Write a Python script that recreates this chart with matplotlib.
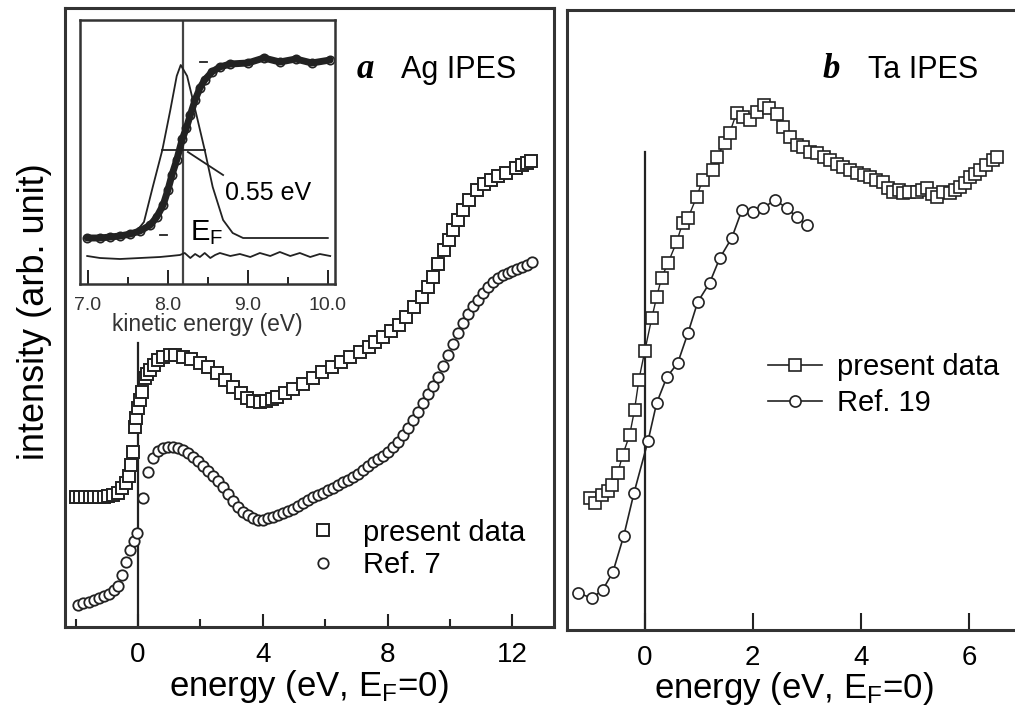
import matplotlib
matplotlib.use("Agg")
import matplotlib.pyplot as plt
from matplotlib.lines import Line2D
from matplotlib.ticker import FixedLocator, FormatStrFormatter

plt.rcParams['font.family'] = ['Liberation Sans', 'DejaVu Sans']
plt.rcParams['mathtext.fontset'] = 'custom'
plt.rcParams['mathtext.rm'] = 'Liberation Sans'
plt.rcParams['mathtext.it'] = 'Liberation Sans'

# ---- panel a: Ag IPES (energy in eV, intensity in arb. units) ----
ag_present_E = [-2.0, -1.85, -1.7, -1.55, -1.4, -1.25, -1.1, -0.95, -0.8, -0.65,
                -0.5, -0.4, -0.3, -0.22, -0.16, -0.1, -0.05, 0.0, 0.07, 0.13,
                0.22, 0.3, 0.38, 0.5, 0.64, 0.8, 1.03, 1.2, 1.44, 1.7,
                2.0, 2.25, 2.53, 2.8, 3.04, 3.3, 3.5, 3.7, 3.9, 4.1,
                4.3, 4.46, 4.7, 4.97, 5.3, 5.6, 5.9, 6.2, 6.5, 6.8,
                7.1, 7.4, 7.6, 7.85, 8.1, 8.35, 8.6, 8.85, 9.1, 9.3,
                9.45, 9.6, 9.8, 9.95, 10.1, 10.25, 10.4, 10.6, 10.87, 11.1,
                11.3, 11.55, 11.8, 12.1, 12.3, 12.47, 12.6]
ag_present_I = [130, 130, 130, 130, 130, 130, 130, 131, 132, 134,
                139, 144, 151, 162, 175, 200, 209, 219, 227, 235,
                249, 253, 257, 262, 267, 270, 272, 272, 270, 268,
                264, 260, 254, 247, 240, 234, 229, 226, 225, 226,
                228, 230, 234, 238, 243, 249, 255, 260, 265, 270,
                275, 280, 285, 290, 296, 302, 310, 320, 330, 340,
                350, 363, 377, 387, 397, 407, 417, 427, 437, 443,
                447, 451, 454, 459, 462, 464, 466]

ag_ref_E = [-1.92, -1.75, -1.58, -1.42, -1.26, -1.1, -0.94, -0.78, -0.64, -0.5,
            -0.38, -0.26, -0.14, -0.03, 0.16, 0.32, 0.48, 0.64, 0.8, 0.96,
            1.12, 1.28, 1.44, 1.6, 1.76, 1.92, 2.08, 2.24, 2.4, 2.56,
            2.72, 2.88, 3.04, 3.2, 3.36, 3.52, 3.68, 3.84, 4.0, 4.16,
            4.32, 4.48, 4.64, 4.8, 4.96, 5.12, 5.28, 5.44, 5.6, 5.76,
            5.92, 6.08, 6.24, 6.4, 6.56, 6.72, 6.88, 7.04, 7.2, 7.36,
            7.52, 7.68, 7.84, 8.0, 8.16, 8.32, 8.48, 8.64, 8.8, 8.96,
            9.12, 9.28, 9.44, 9.6, 9.76, 9.92, 10.08, 10.24, 10.4, 10.56,
            10.72, 10.88, 11.04, 11.2, 11.36, 11.52, 11.68, 11.84, 12.0, 12.16,
            12.32, 12.48, 12.64]
ag_ref_I = [22, 24, 25, 27, 29, 31, 33, 37, 41, 52,
            65, 77, 86, 94, 129, 155, 169, 176, 179, 180,
            180, 179, 177, 174, 170, 166, 161, 156, 151, 146,
            140, 133, 126, 120, 115, 112, 109, 107, 107, 109,
            110, 112, 114, 116, 118, 121, 124, 127, 130, 132,
            134, 137, 139, 142, 145, 147, 150, 153, 157, 161,
            165, 168, 171, 175, 180, 185, 192, 199, 207, 215,
            224, 233, 241, 250, 261, 272, 283, 294, 304, 313,
            321, 327, 334, 340, 345, 349, 352, 354, 356, 358,
            360, 362, 365]

# ---- inset: Fermi edge (kinetic energy in eV) ----
edge_E = [6.99, 7.15, 7.28, 7.4, 7.53, 7.65, 7.78, 7.86, 7.94, 8.0,
          8.05, 8.11, 8.18, 8.23, 8.28, 8.34, 8.4, 8.46, 8.55, 8.65,
          8.78, 9.0, 9.2, 9.4, 9.6, 9.8, 10.03]
edge_I = [46, 46, 47, 48, 50, 53, 59, 67, 79, 94,
          109, 124, 145, 156, 169, 184, 196, 204, 212, 217,
          220, 221, 226, 222, 225, 221, 224]
gauss_E = [7.46, 7.6, 7.7, 7.81, 7.93, 8.03, 8.11, 8.16, 8.24, 8.36,
           8.46, 8.56, 8.69, 8.81, 8.94, 10.0]
gauss_I = [47, 52, 62, 97, 134, 174, 208, 219, 208, 168,
           134, 97, 64, 51, 46, 46]
resid_E = [6.99, 7.15, 7.4, 7.65, 7.9, 8.03, 8.15, 8.21, 8.28, 8.34,
           8.4, 8.46, 8.53, 8.59, 8.65, 8.78, 8.9, 9.03, 9.15, 9.28,
           9.4, 9.53, 9.65, 9.78, 9.9, 10.03]
resid_I = [28, 26, 25, 26, 27, 28, 29, 31, 26, 30,
           27, 31, 26, 29, 31, 28, 30, 27, 31, 28,
           32, 28, 31, 27, 30, 28]
fermi_level = 8.19
fwhm_range = (7.93, 8.46)
fwhm_level = 134

# ---- panel b: Ta IPES ----
ta_present_E = [-1.02, -0.93, -0.8, -0.69, -0.61, -0.5, -0.41, -0.28, -0.19, -0.11,
                0.0, 0.13, 0.22, 0.31, 0.43, 0.59, 0.7, 0.8, 0.96, 1.07,
                1.26, 1.33, 1.48, 1.57, 1.7, 1.81, 1.94, 2.07, 2.2, 2.3,
                2.45, 2.56, 2.69, 2.81, 2.93, 3.06, 3.19, 3.31, 3.43, 3.55,
                3.67, 3.8, 3.93, 4.05, 4.17, 4.29, 4.41, 4.5, 4.59, 4.7,
                4.78, 4.9, 5.04, 5.13, 5.22, 5.32, 5.41, 5.53, 5.65, 5.74,
                5.83, 5.93, 6.02, 6.11, 6.2, 6.32, 6.44, 6.52]
ta_present_I = [132, 127, 135, 139, 145, 157, 175, 195, 220, 250,
                279, 312, 333, 352, 367, 388, 407, 412, 433, 450,
                460, 473, 487, 497, 517, 513, 510, 518, 525, 522,
                516, 503, 493, 485, 483, 478, 477, 473, 470, 466,
                463, 460, 457, 455, 453, 450, 448, 442, 438, 440,
                437, 438, 438, 440, 442, 436, 433, 438, 437, 440,
                443, 447, 453, 456, 460, 465, 470, 473]
ta_ref_E = [-1.24, -0.98, -0.78, -0.59, -0.39, -0.2, 0.06, 0.22, 0.41, 0.61,
            0.8, 0.98, 1.2, 1.39, 1.61, 1.8, 2.0, 2.19, 2.41, 2.63,
            2.81, 3.0]
ta_ref_I = [37, 32, 40, 58, 94, 137, 189, 227, 253, 267,
            297, 328, 347, 372, 392, 420, 418, 422, 430, 422,
            413, 405]

dark = '#222222'
W, H = 1015, 707
fig = plt.figure(figsize=(W / 100, H / 100), dpi=100)

def px_axes(left, top, right, bottom):
    return fig.add_axes([left / W, 1 - bottom / H, (right - left) / W, (bottom - top) / H])

# ===== panel a =====
ax1 = px_axes(65, 8, 554, 627)
ax1.set_xlim(-2.34, 13.33)
ax1.set_ylim(0, 619)
ax1.plot([0, 0], [0, 284], color=dark, lw=1.6, zorder=1)
ax1.plot(ag_present_E, ag_present_I, ls='none', marker='s', ms=8.5, mfc='white',
         mec=dark, mew=1.4, zorder=3)
ax1.plot(ag_ref_E, ag_ref_I, ls='none', marker='o', ms=7.5, mfc='white',
         mec=dark, mew=1.3, zorder=3)
ax1.set_yticks([])
ax1.xaxis.set_major_locator(FixedLocator([0, 4, 8, 12]))
ax1.xaxis.set_minor_locator(FixedLocator([-2, 2, 6, 10]))
ax1.tick_params(axis='x', which='major', direction='in', length=9.5, width=1.5,
                labelsize=20, pad=10.5, color=dark)
ax1.tick_params(axis='x', which='minor', direction='in', length=5.5, width=1.5, color=dark)
ax1.set_xlabel('energy (eV, E$_\\mathregular{F}$=0)', fontsize=25)
ax1.xaxis.set_label_coords(0.499, -0.066)
ax1.text(0.597, 0.887, 'a', transform=ax1.transAxes, fontsize=25,
         family='Liberation Serif', style='italic', weight='bold')
ax1.text(0.688, 0.887, 'Ag IPES', transform=ax1.transAxes, fontsize=22)
h1 = [Line2D([], [], ls='none', marker='s', ms=8.5, mfc='white', mec=dark, mew=1.4),
      Line2D([], [], ls='none', marker='o', ms=7.5, mfc='white', mec=dark, mew=1.3)]
ax1.legend(h1, ['present data', 'Ref. 7'], loc='upper left',
           bbox_to_anchor=(0.498, 0.175), frameon=False, fontsize=21,
           handlelength=1.0, handletextpad=0.88, borderpad=0, borderaxespad=0,
           labelspacing=0.15)

# ===== inset =====
axi = px_axes(80, 20, 335, 284)
axi.set_xlim(6.9, 10.09)
axi.set_ylim(0, 264)
axi.axvline(fermi_level, color='#444444', lw=1.6)
axi.plot(edge_E, edge_I, color=dark, lw=5, marker='o', ms=6, mfc='none',
         mec=dark, mew=1.2, solid_capstyle='round')
axi.plot(gauss_E, gauss_I, color=dark, lw=1.3)
axi.plot(resid_E, resid_I, color=dark, lw=1.3)
axi.plot(fwhm_range, [fwhm_level, fwhm_level], color=dark, lw=1.3)
axi.plot([8.25, 8.69], [132, 109], color=dark, lw=1.3)
axi.plot([8.4, 8.49], [222, 222], color=dark, lw=1.3)
axi.plot([7.9, 7.99], [49, 49], color=dark, lw=1.3)
axi.text(8.71, 91, '0.55 eV', fontsize=18, va='center')
axi.text(8.27, 44, 'E$_\\mathregular{F}$', fontsize=21, va='baseline')
axi.set_yticks([])
axi.xaxis.set_major_locator(FixedLocator([7, 8, 9, 10]))
axi.xaxis.set_minor_locator(FixedLocator([7.5, 8.5, 9.5]))
axi.xaxis.set_major_formatter(FormatStrFormatter('%.1f'))
axi.tick_params(axis='x', which='major', direction='in', length=10, width=1.4,
                labelsize=14, pad=9, color=dark, labelcolor='#333333')
axi.tick_params(axis='x', which='minor', direction='in', length=5, width=1.4, color=dark)
axi.set_xlabel('kinetic energy (eV)', fontsize=16.5, labelpad=0, color='#333333')
for s in axi.spines.values():
    s.set_linewidth(1.8)
    s.set_color('#333333')

# ===== panel b =====
ax2 = px_axes(567, 10, 1025, 630)
ax2.set_xlim(-1.44, 7.04)
ax2.set_ylim(0, 620)
ax2.plot([0, 0], [0, 478], color=dark, lw=1.6, zorder=1)
ax2.plot(ta_present_E, ta_present_I, color=dark, lw=1.0, marker='s', ms=9,
         mfc='white', mec=dark, mew=1.2, zorder=3)
ax2.plot(ta_ref_E, ta_ref_I, color=dark, lw=1.2, marker='o', ms=8,
         mfc='white', mec=dark, mew=1.2, zorder=3)
ax2.set_yticks([])
ax2.xaxis.set_major_locator(FixedLocator([0, 2, 4, 6]))
ax2.tick_params(axis='x', which='major', direction='in', length=12, width=1.5,
                labelsize=20, pad=10.5, color=dark)
ax2.set_xlabel('energy (eV, E$_\\mathregular{F}$=0)', fontsize=25)
ax2.xaxis.set_label_coords((794 - 567) / 458, -0.064)
ax2.text(0.557, 0.89, 'b', transform=ax2.transAxes, fontsize=25,
         family='Liberation Serif', style='italic', weight='bold')
ax2.text(0.657, 0.89, 'Ta IPES', transform=ax2.transAxes, fontsize=22)
h2 = [Line2D([], [], color=dark, lw=1.2, marker='s', ms=9, mfc='white', mec=dark, mew=1.2),
      Line2D([], [], color=dark, lw=1.2, marker='o', ms=8, mfc='white', mec=dark, mew=1.2)]
ax2.legend(h2, ['present data', 'Ref. 19'], loc='upper left',
           bbox_to_anchor=(0.439, 0.447), frameon=False, fontsize=21,
           handlelength=1.86, handletextpad=0.52, borderpad=0, borderaxespad=0,
           labelspacing=0.27)

for ax in (ax1, ax2):
    for s in ax.spines.values():
        s.set_linewidth(2.2)
        s.set_color('#333333')

fig.text(35 / W, 1 - 312 / H, 'intensity (arb. unit)', rotation=90,
         fontsize=26, ha='center', va='center')

fig.savefig('out.png', dpi=100)
